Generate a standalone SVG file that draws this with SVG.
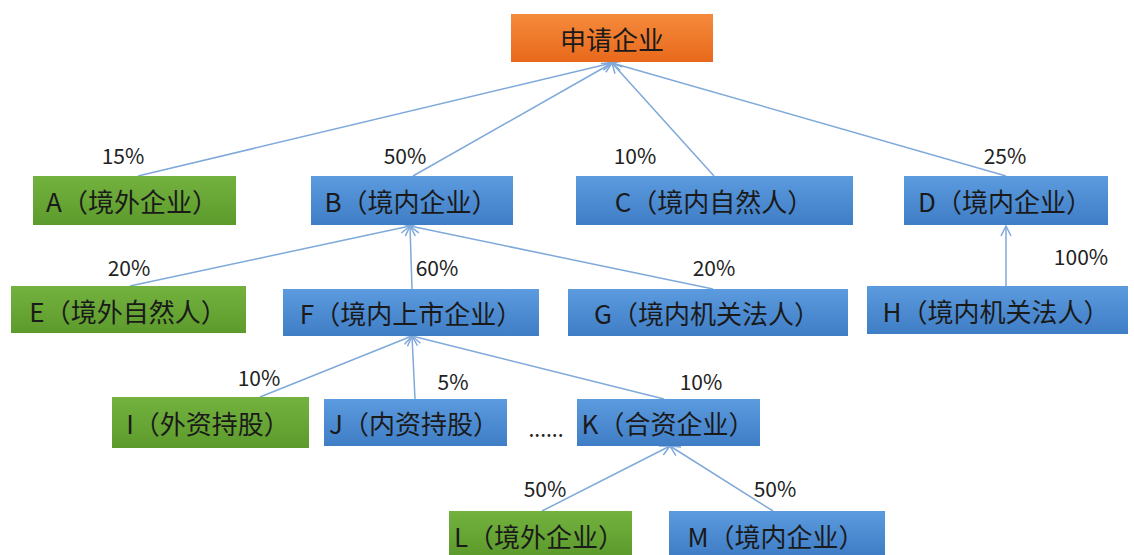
<svg xmlns="http://www.w3.org/2000/svg" width="1134" height="555" viewBox="0 0 1134 555">
<style>
.box text{font-family:"Noto Sans CJK SC","Microsoft YaHei",sans-serif;font-size:26px;fill:#1a1a1a;text-anchor:middle;dominant-baseline:central}
.pct{font-family:"Noto Sans CJK SC","Microsoft YaHei",sans-serif;font-size:21px;fill:#222;text-anchor:middle;dominant-baseline:central}
.blue{fill:url(#gBlue)}
.green{fill:url(#gGreen)}
.conn line{stroke:#7FA9DA;stroke-width:1.5;marker-end:url(#arr)}
</style>
<defs>
<linearGradient id="gBlue" x1="0" y1="0" x2="0" y2="1"><stop offset="0" stop-color="#5C9BDE"/><stop offset="1" stop-color="#3F7DC6"/></linearGradient>
<linearGradient id="gGreen" x1="0" y1="0" x2="0" y2="1"><stop offset="0" stop-color="#74B23F"/><stop offset="1" stop-color="#5C9A2C"/></linearGradient>
<linearGradient id="gOrange" x1="0" y1="0" x2="0" y2="1"><stop offset="0" stop-color="#F58A3C"/><stop offset="1" stop-color="#E8691B"/></linearGradient>
<marker id="arr" viewBox="0 0 12 12" refX="11" refY="6" markerWidth="12" markerHeight="12" markerUnits="userSpaceOnUse" orient="auto">
<path d="M1,1 L11,6 L1,11" fill="none" stroke="#7FA9DA" stroke-width="1.5"/>
</marker>
</defs>
<rect width="1134" height="555" fill="#fff"/>
<g class="conn" id="connectors">
<line x1="138" y1="176" x2="612" y2="63"/>
<line x1="413" y1="176" x2="612" y2="63"/>
<line x1="714" y1="176" x2="612" y2="63"/>
<line x1="1006" y1="176" x2="612" y2="63"/>
<line x1="130" y1="286" x2="410" y2="226"/>
<line x1="412" y1="289" x2="410" y2="226"/>
<line x1="713" y1="289" x2="410" y2="226"/>
<line x1="1006" y1="286" x2="1006" y2="226"/>
<line x1="260" y1="397" x2="412" y2="336"/>
<line x1="415" y1="399" x2="412" y2="336"/>
<line x1="664" y1="399" x2="412" y2="336"/>
<line x1="542" y1="511" x2="670" y2="446"/>
<line x1="773" y1="511" x2="670" y2="446"/>
</g>
<g class="box" id="top"><rect x="511" y="14" width="202" height="48" fill="url(#gOrange)"/><text x="612" y="38">申请企业</text></g>
<g class="box" id="A"><rect class="green" x="33" y="176" width="203" height="49"/><text x="132" y="200">A（境外企业）</text></g>
<g class="box" id="B"><rect class="blue" x="311" y="176" width="202" height="49"/><text x="411" y="200">B（境内企业）</text></g>
<g class="box" id="C"><rect class="blue" x="576" y="176" width="277" height="49"/><text x="714" y="200">C（境内自然人）</text></g>
<g class="box" id="D"><rect class="blue" x="904" y="176" width="204" height="49"/><text x="1005" y="200">D（境内企业）</text></g>
<g class="box" id="E"><rect class="green" x="11" y="286" width="235" height="47"/><text x="128" y="310">E（境外自然人）</text></g>
<g class="box" id="F"><rect class="blue" x="283" y="289" width="256" height="47"/><text x="411" y="312">F（境内上市企业）</text></g>
<g class="box" id="G"><rect class="blue" x="568" y="289" width="280" height="47"/><text x="707" y="312">G（境内机关法人）</text></g>
<g class="box" id="H"><rect class="blue" x="867" y="286" width="261" height="48"/><text x="996" y="310">H（境内机关法人）</text></g>
<g class="box" id="I"><rect class="green" x="112" y="397" width="197" height="51"/><text x="208" y="422">I（外资持股）</text></g>
<g class="box" id="J"><rect class="blue" x="324" y="399" width="183" height="47"/><text x="414" y="422">J（内资持股）</text></g>
<g class="box" id="K"><rect class="blue" x="577" y="399" width="183" height="47"/><text x="668" y="422">K（合资企业）</text></g>
<g class="box" id="L"><rect class="green" x="449" y="511" width="183" height="44"/><text x="539" y="535">L（境外企业）</text></g>
<g class="box" id="M"><rect class="blue" x="669" y="511" width="216" height="44"/><text x="776" y="535">M（境内企业）</text></g>
<g id="labels">
<text class="pct" x="123" y="155">15%</text>
<text class="pct" x="405" y="155">50%</text>
<text class="pct" x="635" y="155">10%</text>
<text class="pct" x="1005" y="155">25%</text>
<text class="pct" x="129" y="267">20%</text>
<text class="pct" x="437" y="267">60%</text>
<text class="pct" x="714" y="267">20%</text>
<text class="pct" x="1081" y="256">100%</text>
<text class="pct" x="259" y="377">10%</text>
<text class="pct" x="453" y="381">5%</text>
<text class="pct" x="701" y="381">10%</text>
<text class="pct" x="545" y="488">50%</text>
<text class="pct" x="775" y="488">50%</text>
<text class="pct" x="546" y="428">......</text>
</g>
</svg>
